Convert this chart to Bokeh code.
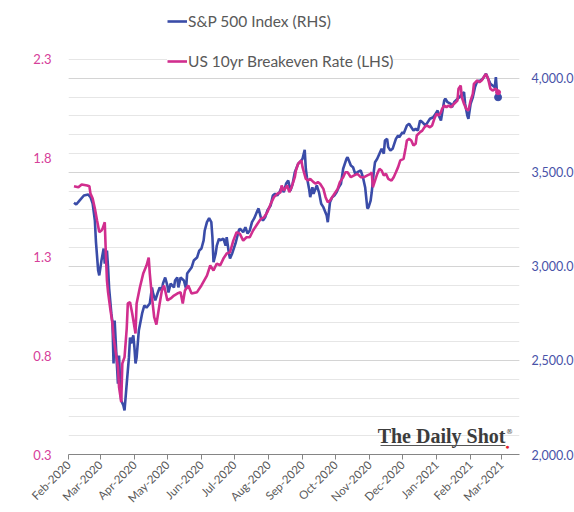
import pandas as pd
from math import pi
from bokeh.plotting import figure
from bokeh.models import (Range1d, LinearAxis, DatetimeTickFormatter, MonthsTicker,
                          SingleIntervalTicker, FixedTicker, NumeralTickFormatter,
                          Legend, LegendItem, Label, BoxAnnotation, ColumnDataSource)
from bokeh.embed import file_html
from bokeh.resources import INLINE

# ---------------- data ----------------
START = "2020-02-01"          # day 0 of the day offsets below
X_END_DAY = 410.5             # right edge of the axis (days after START)

# S&P 500 Index (RHS) : days after START, index level
sp_days = [5, 7, 10, 14, 18, 20, 22, 24, 25, 27,
           28, 30, 32, 33, 35, 36, 37, 39, 40, 41,
           42, 44, 45, 46, 47, 48, 50, 51, 53, 55,
           56, 57, 59, 60, 61, 62, 64, 67, 69, 71,
           74, 76, 77, 79, 81, 83, 85, 86, 88, 90,
           91, 93, 96, 97, 99, 100, 102, 105, 107, 108,
           110, 112, 114, 117, 119, 121, 123, 124, 126, 128,
           130, 131, 132, 134, 135, 137, 138, 141, 143, 144,
           146, 147, 149, 152, 155, 156, 159, 161, 163, 165,
           167, 169, 172, 173, 175, 177, 179, 181, 184, 186,
           188, 190, 192, 194, 196, 198, 200, 202, 204, 206,
           209, 212, 213, 215, 216, 217, 219, 220, 222, 223,
           226, 228, 230, 232, 235, 236, 238, 240, 242, 244,
           246, 248, 250, 253, 254, 257, 259, 261, 263, 266,
           268, 270, 272, 273, 275, 276, 278, 279, 281, 283,
           285, 287, 288, 290, 291, 293, 295, 298, 300, 301,
           304, 305, 308, 310, 311, 314, 316, 318, 320, 322,
           325, 327, 329, 332, 334, 336, 337, 339, 340, 342,
           343, 345, 348, 349, 351, 354, 356, 358, 360, 361,
           363, 364, 366, 368, 370, 372, 375, 377, 379, 380,
           382, 384, 386, 388, 389, 390, 391]
sp_values = [3338, 3329, 3350, 3377, 3382, 3368, 3334, 3244, 3129, 2978,
             2952, 3031, 3095, 3015, 3084, 2996, 2882, 2750, 2703, 2484,
             2712, 2484, 2377, 2526, 2377, 2287, 2260, 2234, 2377, 2516,
             2622, 2590, 2633, 2569, 2484, 2516, 2659, 2750, 2792, 2781,
             2803, 2888, 2856, 2819, 2856, 2888, 2872, 2909, 2941, 2898,
             2861, 2909, 2888, 2925, 2941, 2888, 2941, 2925, 2882, 2962,
             2978, 2994, 3031, 3047, 3084, 3095, 3138, 3191, 3235, 3256,
             3235, 3155, 3022, 3069, 3111, 3148, 3138, 3148, 3111, 3155,
             3069, 3042, 3069, 3122, 3191, 3201, 3182, 3208, 3175, 3191,
             3235, 3255, 3297, 3308, 3261, 3244, 3261, 3297, 3324, 3377,
             3386, 3377, 3394, 3421, 3394, 3439, 3457, 3403, 3439, 3501,
             3545, 3563, 3572, 3620, 3519, 3474, 3412, 3368, 3421, 3386,
             3430, 3394, 3333, 3315, 3271, 3235, 3341, 3368, 3377, 3394,
             3421, 3439, 3519, 3572, 3580, 3536, 3527, 3492, 3501, 3510,
             3474, 3421, 3308, 3313, 3350, 3394, 3510, 3554, 3572, 3599,
             3625, 3599, 3669, 3678, 3634, 3616, 3625, 3678, 3696, 3687,
             3713, 3705, 3749, 3758, 3749, 3722, 3731, 3722, 3776, 3767,
             3749, 3767, 3785, 3793, 3811, 3829, 3802, 3776, 3811, 3882,
             3891, 3873, 3864, 3846, 3873, 3891, 3899, 3917, 3926, 3864,
             3802, 3785, 3864, 3899, 3953, 3984, 3988, 3997, 4015, 4024,
             3997, 3971, 3962, 3953, 4006, 3926, 3899]

# US 10yr Breakeven Rate (LHS) : days after START, percent
be_days = [5, 9, 12, 17, 19, 20, 22, 24, 26, 28,
           30, 31, 33, 34, 35, 36, 38, 40, 41, 43,
           45, 46, 48, 49, 51, 53, 54, 56, 58, 61,
           62, 65, 68, 71, 73, 74, 76, 78, 80, 83,
           85, 87, 90, 93, 96, 99, 102, 104, 106, 109,
           112, 117, 121, 126, 129, 132, 135, 138, 141, 144,
           147, 150, 153, 156, 159, 162, 165, 168, 172, 175,
           178, 181, 184, 187, 190, 193, 194, 196, 199, 201,
           203, 206, 207, 209, 212, 213, 216, 218, 220, 223,
           225, 227, 229, 232, 234, 236, 238, 241, 243, 245,
           247, 250, 252, 254, 257, 260, 263, 266, 269, 272,
           275, 276, 277, 279, 281, 283, 285, 287, 289, 291,
           294, 296, 298, 300, 302, 305, 307, 308, 310, 312,
           314, 316, 317, 320, 322, 324, 326, 329, 331, 333,
           335, 337, 339, 340, 342, 344, 346, 348, 351, 354,
           355, 357, 358, 360, 362, 364, 366, 368, 369, 372,
           374, 376, 379, 380, 382, 384, 386, 389, 391]
be_values = [1.658, 1.653, 1.667, 1.662, 1.658, 1.621, 1.596, 1.546, 1.485, 1.426,
             1.434, 1.444, 1.476, 1.318, 1.181, 1.122, 1.039, 0.963, 0.894, 0.818,
             0.742, 0.641, 0.565, 0.761, 0.793, 0.938, 1.065, 1.071, 1.014, 0.913,
             1.065, 1.147, 1.216, 1.257, 1.297, 1.216, 1.096, 0.995, 0.958, 1.065,
             1.130, 1.156, 1.080, 1.090, 1.105, 1.115, 1.122, 1.065, 1.130, 1.156,
             1.115, 1.122, 1.156, 1.206, 1.257, 1.232, 1.267, 1.257, 1.292, 1.318,
             1.324, 1.383, 1.426, 1.417, 1.383, 1.400, 1.400, 1.434, 1.468, 1.493,
             1.501, 1.527, 1.569, 1.603, 1.620, 1.628, 1.662, 1.637, 1.662, 1.628,
             1.653, 1.704, 1.738, 1.772, 1.789, 1.755, 1.696, 1.687, 1.696, 1.679,
             1.671, 1.679, 1.671, 1.645, 1.603, 1.577, 1.586, 1.611, 1.628, 1.645,
             1.679, 1.704, 1.729, 1.729, 1.704, 1.713, 1.721, 1.704, 1.704, 1.713,
             1.721, 1.729, 1.653, 1.687, 1.721, 1.746, 1.738, 1.713, 1.721, 1.696,
             1.687, 1.704, 1.729, 1.755, 1.789, 1.797, 1.856, 1.890, 1.898, 1.890,
             1.864, 1.873, 1.915, 1.932, 1.940, 1.957, 1.966, 1.957, 1.966, 2.000,
             2.025, 2.016, 2.033, 2.050, 2.067, 2.058, 2.067, 2.058, 2.076, 2.092,
             2.152, 2.168, 2.109, 2.076, 2.050, 2.042, 2.092, 2.126, 2.177, 2.194,
             2.185, 2.194, 2.219, 2.227, 2.202, 2.152, 2.143, 2.152, 2.134]

lhs_ticks = [0.3, 0.8, 1.3, 1.8, 2.3]
lhs_range = (0.3, 2.5987)     # 2.3 sits on the top gridline; space above holds the legend
rhs_range = (2000, 4413.6)    # 4,100 is the top gridline
grid_bounds = (2000, 4100)
series_labels = ["S&P 500 Index (RHS)", "US 10yr Breakeven Rate (LHS)"]
logo_text = "The Daily Shot"

# ---------------- styling ----------------
BLUE = "#3A4CA8"
PINK = "#D12E8E"
BLUE_TXT = "#4852A8"
PINK_TXT = "#D6409A"
GRAY_TXT = "#595959"
FONT = "Lato"

start = pd.Timestamp(START)
epoch = pd.Timestamp("1970-01-01")


def day_ms(d):
    return ((start + pd.Timedelta(days=d)) - epoch).total_seconds() * 1000.0


sp_src = ColumnDataSource(dict(x=start + pd.to_timedelta(sp_days, unit="D"), y=sp_values))
be_src = ColumnDataSource(dict(x=start + pd.to_timedelta(be_days, unit="D"), y=be_values))

p = figure(frame_width=451, frame_height=454, x_axis_type="datetime",
           x_range=Range1d(day_ms(0), day_ms(X_END_DAY)),
           y_range=Range1d(*rhs_range), y_axis_location="right",
           output_backend="svg", toolbar_location=None,
           min_border_left=68, min_border_right=54, min_border_top=0, min_border_bottom=58,
           outline_line_color=None, background_fill_color="white", border_fill_color="white")

# right (primary) axis
rticker = SingleIntervalTicker(interval=500, num_minor_ticks=5)
ry = p.yaxis[0]
ry.ticker = rticker
ry.formatter = NumeralTickFormatter(format="0,0.0")
ry.axis_line_color = None
ry.major_tick_line_color = None
ry.minor_tick_line_color = None
ry.major_label_text_color = BLUE_TXT
ry.major_label_text_font = FONT
ry.major_label_text_font_size = "12.5px"
ry.major_label_standoff = 6

# grid from the right axis, only up to 4,100
p.ygrid[0].ticker = rticker
p.ygrid[0].bounds = grid_bounds
p.ygrid.grid_line_color = "#d4d4d4"
p.ygrid.minor_grid_line_color = "#e6e6e6"
p.xgrid.grid_line_color = None

# left axis
p.extra_y_ranges = {"lhs": Range1d(*lhs_range)}
ly = LinearAxis(y_range_name="lhs", ticker=FixedTicker(ticks=lhs_ticks),
                formatter=NumeralTickFormatter(format="0.0"))
ly.axis_line_color = None
ly.major_tick_line_color = None
ly.minor_tick_line_color = None
ly.major_label_text_color = PINK_TXT
ly.major_label_text_font = FONT
ly.major_label_text_font_size = "13px"
ly.major_label_standoff = 11
p.add_layout(ly, "left")

# x axis
xa = p.xaxis[0]
xa.ticker = MonthsTicker(months=list(range(12)))
xa.formatter = DatetimeTickFormatter(months="%b-%Y", days="%b-%Y", years="%b-%Y")
xa.major_label_orientation = pi / 4
xa.axis_line_color = "#858585"
xa.major_tick_line_color = "#858585"
xa.major_tick_out = 5
xa.major_tick_in = 0
xa.minor_tick_line_color = None
xa.major_label_text_color = GRAY_TXT
xa.major_label_text_font = FONT
xa.major_label_text_font_size = "11.5px"
xa.major_label_standoff = 3

# lines
r_sp = p.line("x", "y", source=sp_src, color=BLUE, line_width=2.6)
r_be = p.line("x", "y", source=be_src, color=PINK, line_width=2.6, y_range_name="lhs")
p.scatter(x=[sp_src.data["x"][-1]], y=[sp_values[-1]], size=7, color=BLUE)
p.scatter(x=[be_src.data["x"][-1]], y=[be_values[-1]], size=5, color=PINK, y_range_name="lhs")

# legend (inside the tall frame, above the 4,100 gridline)
legend = Legend(items=[LegendItem(label=series_labels[0], renderers=[r_sp]),
                       LegendItem(label=series_labels[1], renderers=[r_be])],
                location=(99, 383), orientation="vertical",
                background_fill_color="white", background_fill_alpha=1.0,
                border_line_color=None, padding=0, margin=0, spacing=20,
                glyph_width=20, glyph_height=20, label_standoff=1, label_height=20,
                label_text_font=FONT, label_text_font_size="15.5px", label_text_color=GRAY_TXT)
p.add_layout(legend)

# logo
p.add_layout(Label(x=day_ms(397.7), y=2097, text=logo_text, text_align="right",
                   text_baseline="middle", text_font="Liberation Serif", text_font_style="bold",
                   text_font_size="20px", text_color="#3c3c3c"))
p.add_layout(Label(x=day_ms(398.2), y=2120, text="®", text_align="left",
                   text_baseline="middle", text_font="DejaVu Serif",
                   text_font_size="7px", text_color="#3c3c3c"))
p.add_layout(BoxAnnotation(left=day_ms(284), right=day_ms(397.7), bottom=2045, top=2051,
                           fill_color="#555555", fill_alpha=1.0, line_color=None))
p.add_layout(Label(x=day_ms(399.5), y=2043, text="●", text_align="center",
                   text_baseline="middle", text_font_size="7px", text_color="#e3202a"))

open("out.html", "w").write(file_html(p, INLINE))
